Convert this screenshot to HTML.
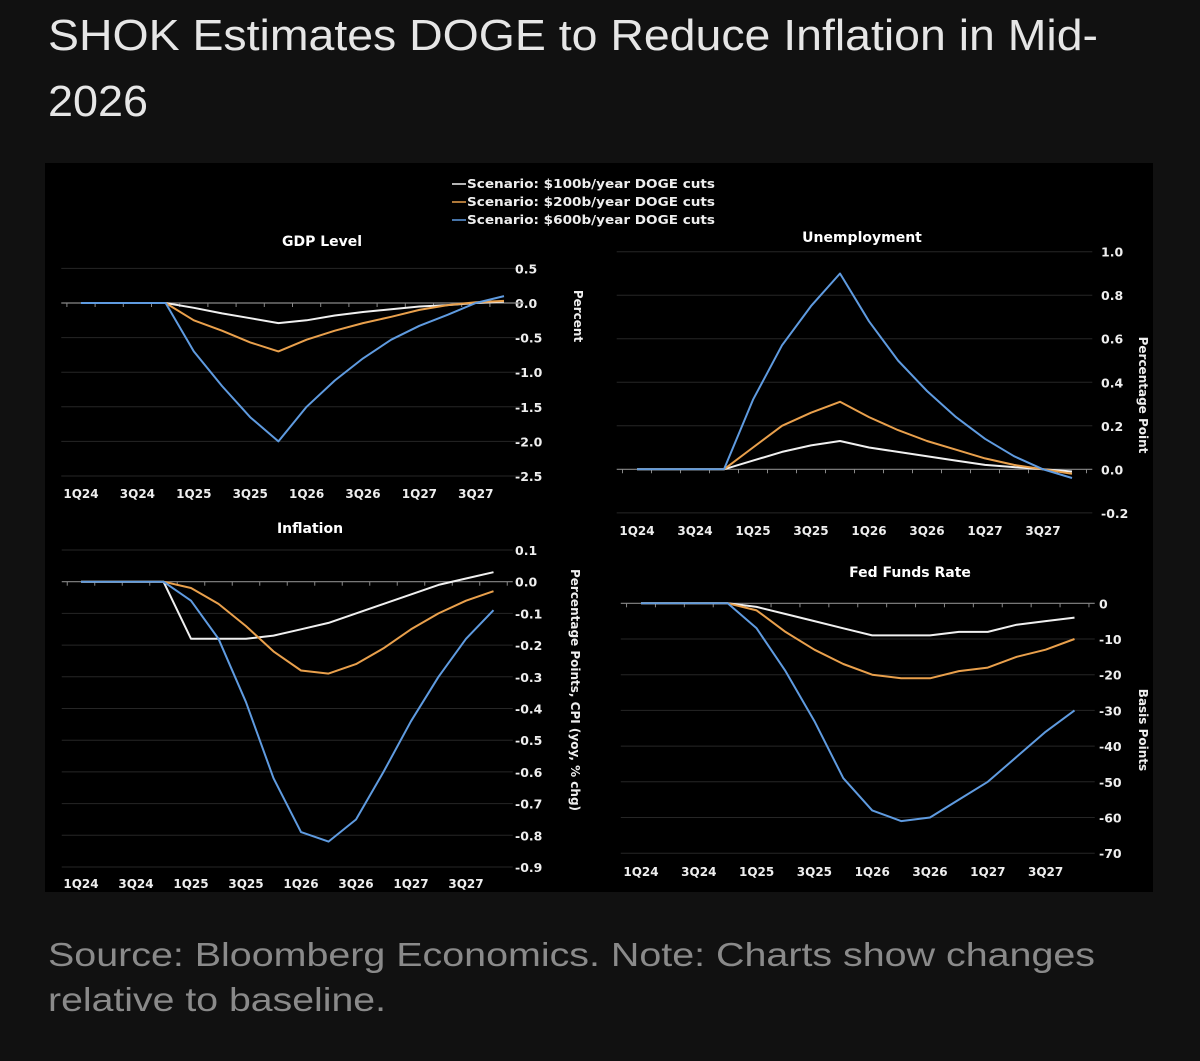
<!DOCTYPE html>
<html><head><meta charset="utf-8"><style>
html,body{margin:0;padding:0;background:#111;}
svg{display:block;}
</style></head><body>
<svg id="root" width="1200" height="1061" viewBox="0 0 1200 1061" xmlns="http://www.w3.org/2000/svg" font-family="'DejaVu Sans', 'Liberation Sans', sans-serif">
<rect x="0" y="0" width="1200" height="1061" fill="#111"/>
<text x="48" y="50" font-family="'Liberation Sans', sans-serif" font-size="44" fill="#e6e6e6" textLength="1050" lengthAdjust="spacingAndGlyphs">SHOK Estimates DOGE to Reduce Inflation in Mid-</text>
<text x="48" y="116" font-family="'Liberation Sans', sans-serif" font-size="44" fill="#e6e6e6" textLength="100" lengthAdjust="spacingAndGlyphs">2026</text>
<rect x="45" y="163" width="1108" height="729" fill="#000"/>
<g id="charts"></g>
<g font-size="12" font-weight="bold" fill="#eee">
  <line x1="452" y1="184" x2="466" y2="184" stroke="#f0f0f0" stroke-width="1.5"/>
  <text x="467" y="188" textLength="248" lengthAdjust="spacingAndGlyphs">Scenario: $100b/year DOGE cuts</text>
  <line x1="452" y1="202" x2="466" y2="202" stroke="#e9a04c" stroke-width="1.5"/>
  <text x="467" y="206" textLength="248" lengthAdjust="spacingAndGlyphs">Scenario: $200b/year DOGE cuts</text>
  <line x1="452" y1="220" x2="466" y2="220" stroke="#5f9be0" stroke-width="1.5"/>
  <text x="467" y="224" textLength="248" lengthAdjust="spacingAndGlyphs">Scenario: $600b/year DOGE cuts</text>
</g>
<text x="48" y="966" font-family="'Liberation Sans', sans-serif" font-size="33" fill="#8a8a8a" textLength="1047" lengthAdjust="spacingAndGlyphs">Source: Bloomberg Economics. Note: Charts show changes</text>
<text x="48" y="1011" font-family="'Liberation Sans', sans-serif" font-size="33" fill="#8a8a8a" textLength="338" lengthAdjust="spacingAndGlyphs">relative to baseline.</text>
</svg>
<script>
const quarters = ["1Q24","2Q24","3Q24","4Q24","1Q25","2Q25","3Q25","4Q25","1Q26","2Q26","3Q26","4Q26","1Q27","2Q27","3Q27","4Q27"];
const xTickLabels = ["1Q24","3Q24","1Q25","3Q25","1Q26","3Q26","1Q27","3Q27"];

const gdp100 = [0,0,0,0,-0.07,-0.15,-0.22,-0.29,-0.25,-0.18,-0.13,-0.09,-0.05,-0.03,0,0.02];
const gdp200 = [0,0,0,0,-0.25,-0.4,-0.57,-0.7,-0.53,-0.4,-0.29,-0.2,-0.1,-0.03,0.01,0.03];
const gdp600 = [0,0,0,0,-0.7,-1.2,-1.65,-2.0,-1.5,-1.12,-0.8,-0.53,-0.33,-0.17,0,0.1];
const gdpTicks = ["0.5","0.0","-0.5","-1.0","-1.5","-2.0","-2.5"];

const unemp100 = [0,0,0,0,0.04,0.08,0.11,0.13,0.1,0.08,0.06,0.04,0.02,0.01,0,-0.01];
const unemp200 = [0,0,0,0,0.1,0.2,0.26,0.31,0.24,0.18,0.13,0.09,0.05,0.02,0,-0.02];
const unemp600 = [0,0,0,0,0.32,0.57,0.75,0.9,0.68,0.5,0.36,0.24,0.14,0.06,0,-0.04];
const unempTicks = ["1.0","0.8","0.6","0.4","0.2","0.0","-0.2"];

const infl100 = [0,0,0,0,-0.18,-0.18,-0.18,-0.17,-0.15,-0.13,-0.1,-0.07,-0.04,-0.01,0.01,0.03];
const infl200 = [0,0,0,0,-0.02,-0.07,-0.14,-0.22,-0.28,-0.29,-0.26,-0.21,-0.15,-0.1,-0.06,-0.03];
const infl600 = [0,0,0,0,-0.06,-0.18,-0.38,-0.62,-0.79,-0.82,-0.75,-0.6,-0.44,-0.3,-0.18,-0.09];
const inflTicks = ["0.1","0.0","-0.1","-0.2","-0.3","-0.4","-0.5","-0.6","-0.7","-0.8","-0.9"];

const fed100 = [0,0,0,0,-1,-3,-5,-7,-9,-9,-9,-8,-8,-6,-5,-4];
const fed200 = [0,0,0,0,-2,-8,-13,-17,-20,-21,-21,-19,-18,-15,-13,-10];
const fed600 = [0,0,0,0,-7,-19,-33,-49,-58,-61,-60,-55,-50,-43,-36,-30];
const fedTicks = ["0","-10","-20","-30","-40","-50","-60","-70"];

const NS = "http://www.w3.org/2000/svg";
const colors = ["#f0f0f0","#e9a04c","#5f9be0"];
const root = document.getElementById("charts");

function mk(tag, attrs, parent){
  const e = document.createElementNS(NS, tag);
  for (const k in attrs) e.setAttribute(k, attrs[k]);
  parent.appendChild(e);
  return e;
}

function panel(cfg){
  const g = mk("g", {}, root);
  
  
  const xs = i => cfg.x0 + i * cfg.dx;
  const ys = v => cfg.yZero - v * cfg.pxPerUnit;
  const left = cfg.x0 - cfg.dx * 0.7, right = xs(15) + cfg.dx * 0.7;
  cfg.ticks.forEach(t => {
    const v = parseFloat(t);
    const y = ys(v);
    if (Math.abs(v) > 1e-9) {
      const gl = mk("line", {x1:left, x2:right, y1:y, y2:y, stroke:"#262626", "stroke-width":1}, g);
      
      
    }
    const tl = mk("text", {x:cfg.tickX, y:y+5, "font-size":12.5, "font-weight":"bold", fill:"#eee"}, g);
    
    
    tl.textContent = t;
  });
  const z = ys(0);
  const ax = mk("line", {x1:left, x2:right, y1:z, y2:z, stroke:"#888", "stroke-width":1.2}, g);
  
  
  for (let i = 0; i <= 16; i++) {
    const tx = cfg.x0 + (i - 0.5) * cfg.dx;
    const tk = mk("line", {x1:tx, x2:tx, y1:z, y2:z+4, stroke:"#888", "stroke-width":1}, g);
    
    
  }
  xTickLabels.forEach(lab => {
    const i = quarters.indexOf(lab);
    const t = mk("text", {x:xs(i), y:cfg.xLabY, "font-size":12, "font-weight":"bold", fill:"#eee", "text-anchor":"middle"}, g);
    
    
    t.textContent = lab;
  });
  cfg.series.forEach((arr, si) => {
    const d = arr.map((v, i) => (i ? "L" : "M") + xs(i).toFixed(1) + " " + ys(v).toFixed(1)).join(" ");
    const p = mk("path", {d:d, fill:"none", stroke:colors[si], "stroke-width":2, "stroke-linejoin":"round"}, g);
    
    
  });
  const tt = mk("text", {x:cfg.titleX, y:cfg.titleY, "font-size":14, "font-weight":"bold", fill:"#fff", "text-anchor":"middle"}, g);
  
  
  tt.textContent = cfg.title;
  const at = mk("text", {x:0, y:0, "font-size":12, "font-weight":"bold", fill:"#eee", "text-anchor":"middle", transform:`translate(${cfg.axX},${cfg.axY}) rotate(90)`}, g);
  
  
  at.textContent = cfg.axTitle;
}

panel({name:"gdp-panel", x0:81, dx:28.2, yZero:303, pxPerUnit:69.2, ticks:gdpTicks, tickX:515, xLabY:498,
  series:[gdp100,gdp200,gdp600], seriesNames:["gdp-line-100b","gdp-line-200b","gdp-line-600b"],
  title:"GDP Level", titleX:322, titleY:246, axTitle:"Percent", axX:574, axY:316});
panel({name:"unemployment-panel", x0:637, dx:29, yZero:469.3, pxPerUnit:217.6, ticks:unempTicks, tickX:1101, xLabY:535,
  series:[unemp100,unemp200,unemp600], seriesNames:["unemployment-line-100b","unemployment-line-200b","unemployment-line-600b"],
  title:"Unemployment", titleX:862, titleY:242, axTitle:"Percentage Point", axX:1139, axY:395});
panel({name:"inflation-panel", x0:81, dx:27.5, yZero:581.7, pxPerUnit:317, ticks:inflTicks, tickX:515, xLabY:888,
  series:[infl100,infl200,infl600], seriesNames:["inflation-line-100b","inflation-line-200b","inflation-line-600b"],
  title:"Inflation", titleX:310, titleY:533, axTitle:"Percentage Points, CPI (yoy, % chg)", axX:571, axY:690});
panel({name:"fed-funds-panel", x0:641, dx:28.9, yZero:603.3, pxPerUnit:3.57, ticks:fedTicks, tickX:1099, xLabY:876,
  series:[fed100,fed200,fed600], seriesNames:["fed-funds-line-100b","fed-funds-line-200b","fed-funds-line-600b"],
  title:"Fed Funds Rate", titleX:910, titleY:577, axTitle:"Basis Points", axX:1139, axY:730});
</script>
</body></html>
